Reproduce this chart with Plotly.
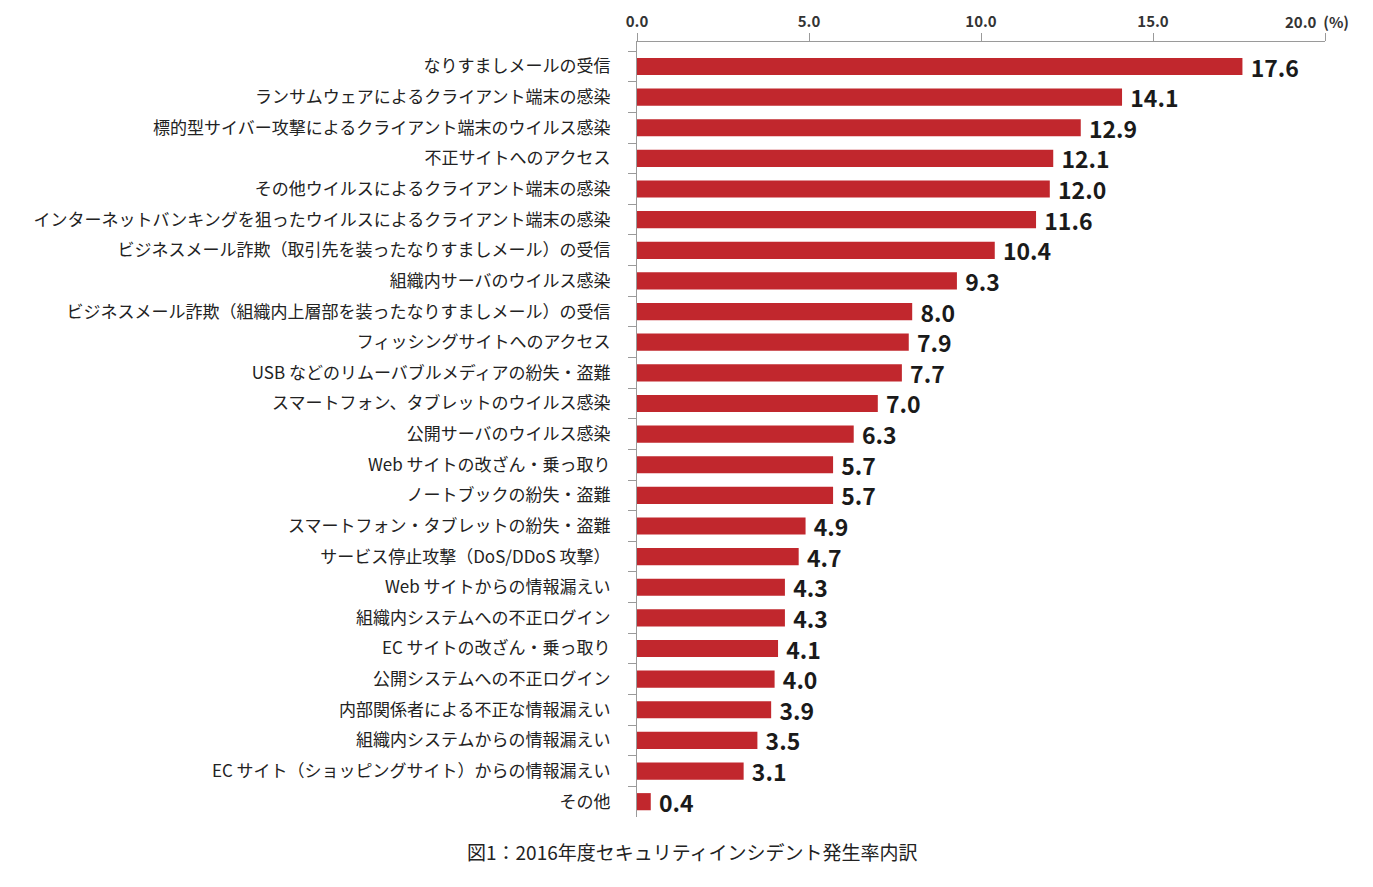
import plotly.graph_objects as go

# カテゴリと発生率(%)
categories = [
    "なりすましメールの受信",
    "ランサムウェアによるクライアント端末の感染",
    "標的型サイバー攻撃によるクライアント端末のウイルス感染",
    "不正サイトへのアクセス",
    "その他ウイルスによるクライアント端末の感染",
    "インターネットバンキングを狙ったウイルスによるクライアント端末の感染",
    "ビジネスメール詐欺（取引先を装ったなりすましメール）の受信",
    "組織内サーバのウイルス感染",
    "ビジネスメール詐欺（組織内上層部を装ったなりすましメール）の受信",
    "フィッシングサイトへのアクセス",
    "USB などのリムーバブルメディアの紛失・盗難",
    "スマートフォン、タブレットのウイルス感染",
    "公開サーバのウイルス感染",
    "Web サイトの改ざん・乗っ取り",
    "ノートブックの紛失・盗難",
    "スマートフォン・タブレットの紛失・盗難",
    "サービス停止攻撃（DoS/DDoS 攻撃）",
    "Web サイトからの情報漏えい",
    "組織内システムへの不正ログイン",
    "EC サイトの改ざん・乗っ取り",
    "公開システムへの不正ログイン",
    "内部関係者による不正な情報漏えい",
    "組織内システムからの情報漏えい",
    "EC サイト（ショッピングサイト）からの情報漏えい",
    "その他",
]
rates = [17.6, 14.1, 12.9, 12.1, 12.0, 11.6, 10.4, 9.3, 8.0, 7.9, 7.7, 7.0, 6.3,
         5.7, 5.7, 4.9, 4.7, 4.3, 4.3, 4.1, 4.0, 3.9, 3.5, 3.1, 0.4]
x_ticks = [0, 5, 10, 15, 20]

FONT = "Noto Sans CJK JP"
TICK_FONT = dict(family=FONT, size=15, color="#333333", weight="bold")

fig = go.Figure()
fig.add_trace(go.Bar(
    x=rates,
    y=categories,
    orientation="h",
    marker=dict(color="#c1272d", line=dict(width=0)),
    width=0.56,
    text=[f" {v:.1f}" for v in rates],
    textposition="outside",
    constraintext="none",
    textfont=dict(family=FONT, size=23, color="#1a1a1a", weight="bold"),
    cliponaxis=False,
    hoverinfo="x+y",
))

# 20.0 の目盛りラベルは "(%)" と並べて注釈で描く
fig.update_xaxes(
    side="top",
    range=[0, 20],
    tickvals=x_ticks,
    ticktext=[f"{v:.1f}" if v != 20 else "" for v in x_ticks],
    tickfont=TICK_FONT,
    showline=True, linecolor="#9a9a9a", linewidth=1,
    ticks="outside", ticklen=8, tickcolor="#9a9a9a",
    showgrid=False, zeroline=False,
    automargin=False,
)
fig.update_yaxes(
    type="category",
    categoryorder="array", categoryarray=categories,
    range=[len(categories) - 0.5, -0.8],
    tickson="boundaries",
    ticks="outside", ticklen=8, tickcolor="#9a9a9a",
    ticklabelstandoff=22,
    showline=True, linecolor="#9a9a9a", linewidth=1,
    tickfont=dict(family=FONT, size=17, color="#222222"),
    showgrid=False, zeroline=False,
    automargin=False,
)

fig.add_annotation(
    text=f"{x_ticks[-1]:.1f}  (%)", xref="x", yref="paper", x=x_ticks[-1], y=1,
    xanchor="left", yanchor="bottom", xshift=-42, yshift=8,
    showarrow=False, font=TICK_FONT,
)
fig.add_annotation(
    text="図1：2016年度セキュリティインシデント発生率内訳",
    xref="paper", yref="paper", x=0.081, y=-0.045,
    xanchor="center", yanchor="middle", showarrow=False,
    font=dict(family=FONT, size=19, color="#222222"),
)

fig.update_layout(
    width=1373, height=887,
    margin=dict(l=629, r=56, t=34, b=78),
    plot_bgcolor="white", paper_bgcolor="white",
    showlegend=False,
    font=dict(family=FONT),
)

fig.write_html("out.html")
